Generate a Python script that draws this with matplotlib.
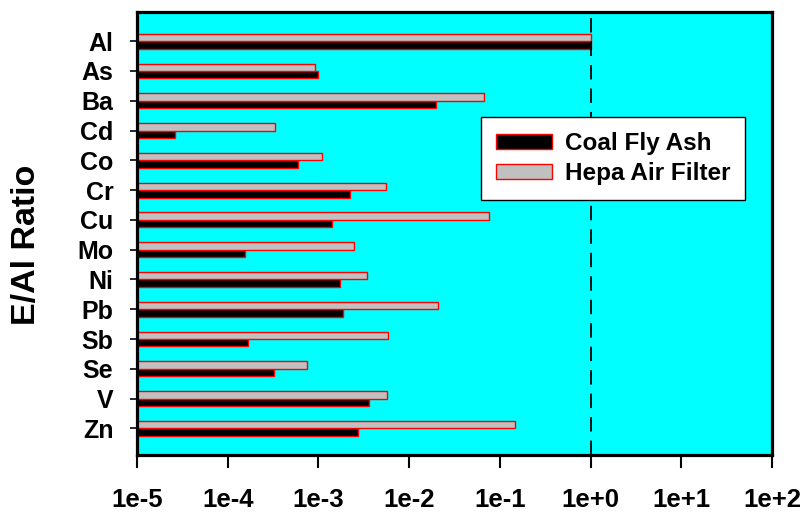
import numpy as np
import matplotlib.pyplot as plt
from matplotlib.ticker import FixedLocator, NullLocator

plt.rcParams['font.family'] = ['Liberation Sans', 'DejaVu Sans']
plt.rcParams['font.weight'] = 'bold'

# E/Al ratios per element
elements = ["Al", "As", "Ba", "Cd", "Co", "Cr", "Cu", "Mo", "Ni", "Pb", "Sb", "Se", "V", "Zn"]
coal_fly_ash = [1.0, 1.0e-3, 1.96e-2, 2.6e-5, 5.9e-4, 2.2e-3, 1.41e-3, 1.56e-4,
                1.73e-3, 1.84e-3, 1.69e-4, 3.2e-4, 3.6e-3, 2.7e-3]
hepa_filter = [1.0, 9.2e-4, 6.75e-2, 3.35e-4, 1.09e-3, 5.6e-3, 7.6e-2, 2.47e-3,
               3.46e-3, 2.1e-2, 5.9e-3, 7.4e-4, 5.75e-3, 0.145]
decades = list(range(-5, 3))

x_min = 10.0 ** decades[0]
bar_h = 0.25
pos = np.arange(len(elements))

fig = plt.figure(figsize=(8.06, 5.12), dpi=100)
ax = fig.add_axes([0.170, 0.111, 0.788, 0.865])
ax.set_facecolor("#00FFFF")

ax.barh(pos + bar_h / 2, np.array(coal_fly_ash) - x_min, left=x_min, height=bar_h,
        color="black", edgecolor="red", linewidth=1.0, label="Coal Fly Ash")
ax.barh(pos - bar_h / 2, np.array(hepa_filter) - x_min, left=x_min, height=bar_h,
        color="#C0C0C0", edgecolor="red", linewidth=1.0, label="Hepa Air Filter")

ax.axvline(1.0, color="black", linestyle=(0, (8, 5)), linewidth=1.3, zorder=1)

ax.set_xscale("log")
ax.set_xlim(10.0 ** decades[0], 10.0 ** decades[-1])
ax.xaxis.set_major_locator(FixedLocator([10.0 ** k for k in decades]))
ax.xaxis.set_minor_locator(NullLocator())
ax.set_xticklabels([f"1e{k:+d}" for k in decades], fontsize=18.5, fontweight="bold")

ax.set_yticks(pos)
ax.set_yticklabels(elements, fontsize=18, fontweight="bold")
ax.set_ylim(len(elements) - 0.1, -0.97)

ax.tick_params(axis="x", direction="out", length=9.5, width=1.5, pad=14)
ax.tick_params(axis="y", direction="out", length=5, width=1.2, pad=12)
for sp in ax.spines.values():
    sp.set_linewidth(2.3)

fig.text(27 / 806, 1 - 245 / 512, "E/Al Ratio", rotation=90, ha="center", va="center",
         fontsize=24.5, fontweight="bold")

leg = ax.legend(loc="upper left", bbox_to_anchor=(0.542, 0.763), borderaxespad=0,
                fontsize=17.5, frameon=True, fancybox=False, edgecolor="black",
                framealpha=1, handlelength=2.3, handleheight=0.55, borderpad=0.6,
                labelspacing=0.3, handletextpad=0.55)
leg.get_frame().set_linewidth(1.0)

fig.savefig("out.png", dpi=100)
